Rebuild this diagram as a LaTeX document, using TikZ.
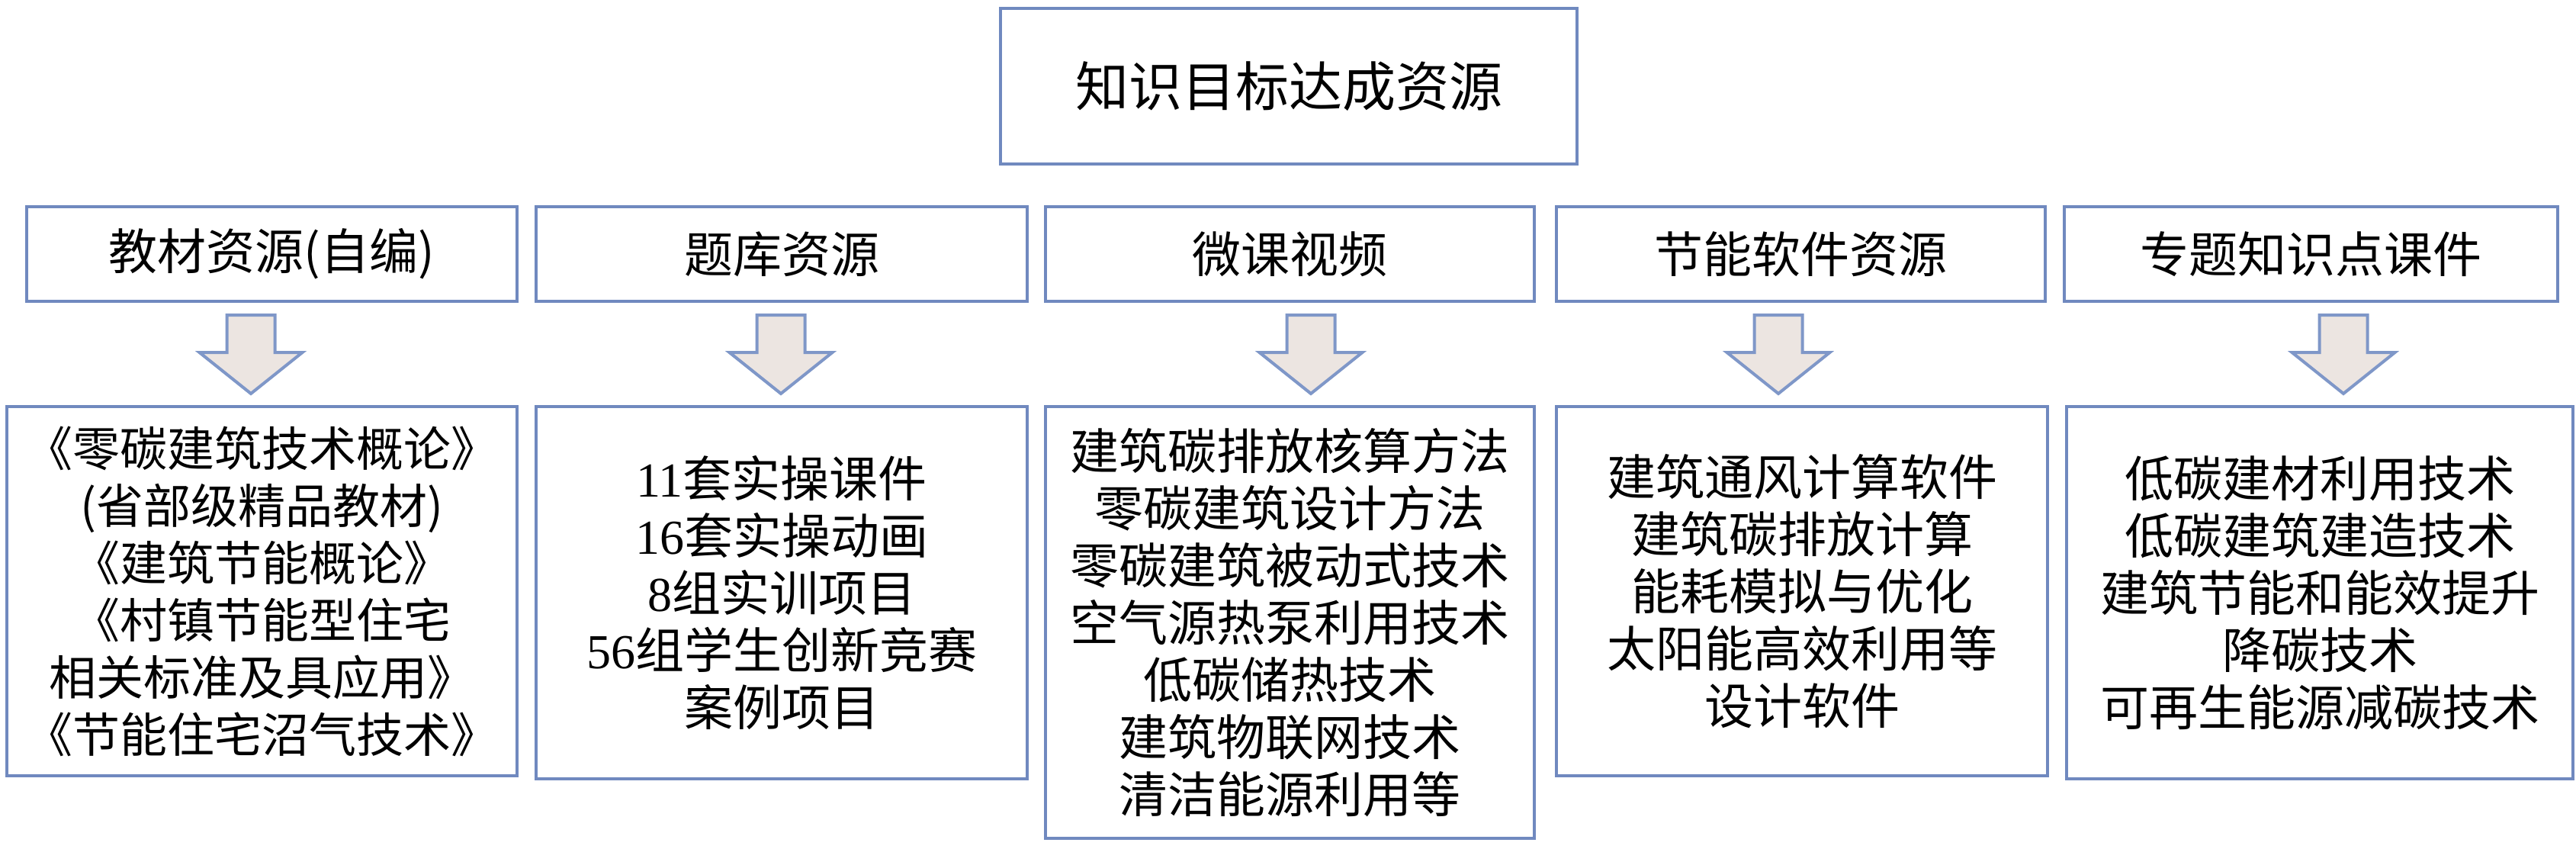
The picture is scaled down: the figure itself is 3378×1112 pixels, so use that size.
\documentclass[tikz,border=0pt]{standalone}
\usepackage{fontspec}
\setmainfont{Liberation Serif}
\newfontfamily\cjk{Noto Sans CJK SC}
\definecolor{bord}{HTML}{7089BF}
\definecolor{afill}{HTML}{ECE5E1}
\definecolor{aline}{HTML}{7F97C8}
\newcommand\dg[1]{{\rmfamily #1}}
\begin{document}
\begin{tikzpicture}[x=1pt,y=-1pt,
  box/.style={draw=bord, line width=4pt, fill=white, inner sep=2pt, align=center,
    font=\cjk\fontsize{64}{75}\selectfont},
  blockarrow/.style={draw=aline, fill=afill, line width=4pt, line join=miter}]
\useasboundingbox (0,0) rectangle (3378,1112);

\node[box, minimum width=756, minimum height=204, font=\cjk\fontsize{70}{80}\selectfont] (top) at (1690,113) {知识目标达成资源};

\node[box, minimum width=643, minimum height=124] (b1) at (356.5,333) {教材资源(自编)};
\node[box, minimum width=644, minimum height=124] (b2) at (1025,333) {题库资源};
\node[box, minimum width=641, minimum height=124] (b3) at (1691.5,333) {微课视频};
\node[box, minimum width=641, minimum height=124] (b4) at (2361.5,333) {节能软件资源};
\node[box, minimum width=647, minimum height=124] (b5) at (3030.5,333) {专题知识点课件};

\coordinate (a1) at (329,413);
\coordinate (a2) at (1024,413);
\coordinate (a3) at (1719,413);
\coordinate (a4) at (2332,413);
\coordinate (a5) at (3073,413);
\foreach \a in {a1,a2,a3,a4,a5}{
  \draw[blockarrow] (\a) ++(-31.5,0) -- ++(63,0) -- ++(0,49) -- ++(36,0)
    -- ++(-67.5,54) -- ++(-67.5,-54) -- ++(36,0) -- cycle;
}

\node[box, minimum width=669, minimum height=484, font=\cjk\fontsize{62}{75}\selectfont] (c1) at (343.5,775)
  {《零碳建筑技术概论》\\(省部级精品教材)\\《建筑节能概论》\\《村镇节能型住宅\\相关标准及具应用》\\《节能住宅沼气技术》};
\node[box, minimum width=644, minimum height=488] (c2) at (1025,777)
  {\dg{11}套实操课件\\\dg{16}套实操动画\\\dg{8}组实训项目\\\dg{56}组学生创新竞赛\\案例项目};
\node[box, minimum width=641, minimum height=566] (c3) at (1691.5,816)
  {建筑碳排放核算方法\\零碳建筑设计方法\\零碳建筑被动式技术\\空气源热泵利用技术\\低碳储热技术\\建筑物联网技术\\清洁能源利用等};
\node[box, minimum width=644, minimum height=484] (c4) at (2363,775)
  {建筑通风计算软件\\建筑碳排放计算\\能耗模拟与优化\\太阳能高效利用等\\设计软件};
\node[box, minimum width=664, minimum height=488] (c5) at (3042,777)
  {低碳建材利用技术\\低碳建筑建造技术\\建筑节能和能效提升\\降碳技术\\可再生能源减碳技术};
\end{tikzpicture}
\end{document}
